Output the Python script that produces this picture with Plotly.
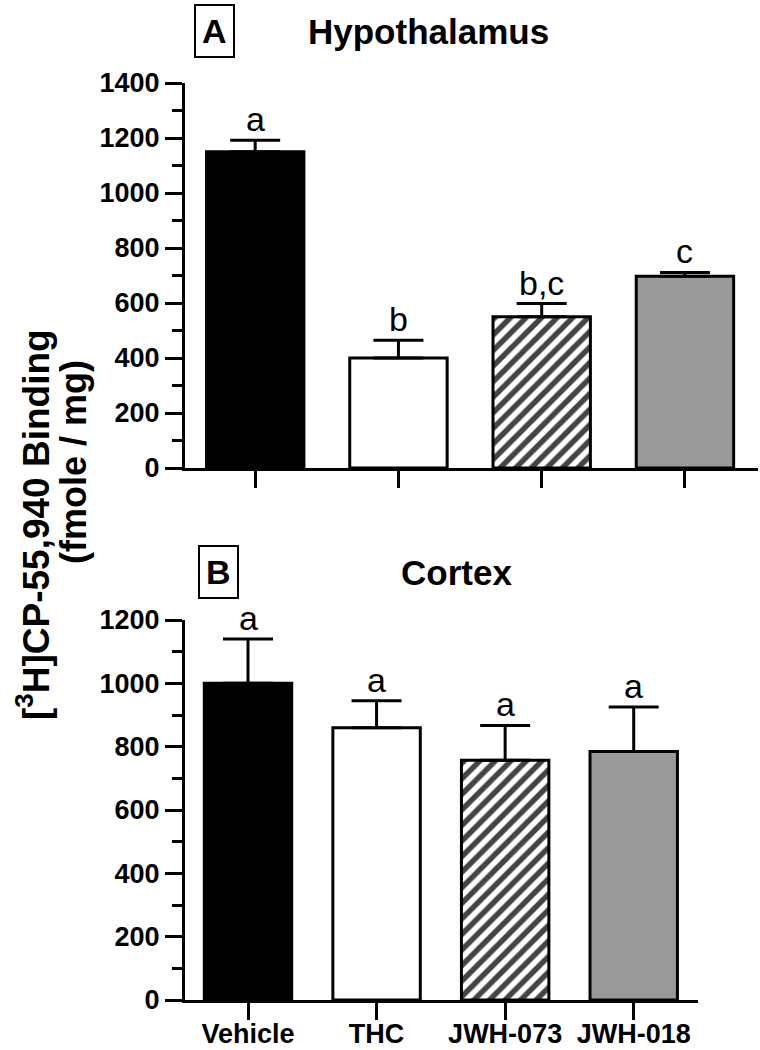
import plotly.graph_objects as go

categories = ["Vehicle", "THC", "JWH-073", "JWH-018"]
hyp_values = [1150, 400, 550, 697]
hyp_errors = [42, 65, 48, 14]
hyp_letters = ["a", "b", "b,c", "c"]
ctx_values = [1000, 860, 757, 785]
ctx_errors = [140, 85, 110, 140]
ctx_letters = ["a", "a", "a", "a"]
bar_colors = ["#000000", "#ffffff", "#ffffff", "#999999"]
bar_patterns = ["", "", "/", ""]

W, H = 760, 1050
FONT = "Liberation Sans, Arial, Helvetica, sans-serif"


def px_x(p):
    return p / W


def px_y(p):
    return 1 - p / H


def bar_trace(vals, errs, xa, ya):
    return go.Bar(
        x=categories, y=vals, xaxis=xa, yaxis=ya, width=0.68,
        marker=dict(
            color=bar_colors,
            line=dict(color="black", width=3),
            pattern=dict(shape=bar_patterns, fgcolor="black", fgopacity=1,
                         size=11, solidity=0.5, fillmode="overlay"),
        ),
        error_y=dict(type="data", array=errs, arrayminus=[0] * len(errs),
                     symmetric=False, color="black", thickness=3, width=25),
        showlegend=False, hoverinfo="skip",
    )


fig = go.Figure()
fig.add_trace(bar_trace(hyp_values, hyp_errors, "x", "y"))
fig.add_trace(bar_trace(ctx_values, ctx_errors, "x2", "y2"))

axis_common = dict(showline=True, linecolor="black", linewidth=3,
                   ticks="outside", tickcolor="black", tickwidth=3,
                   showgrid=False, zeroline=False,
                   tickfont=dict(family=FONT, size=27, color="black", weight="bold"))

fig.update_layout(
    width=W, height=H, margin=dict(l=0, r=0, t=0, b=0),
    paper_bgcolor="white", plot_bgcolor="white", template="none",
    font=dict(family=FONT, color="black"),
    xaxis=dict(domain=[px_x(185), px_x(758)], range=[-0.49, 3.51],
               anchor="y", type="category", ticklen=17, showticklabels=False,
               **axis_common),
    yaxis=dict(domain=[px_y(468), px_y(83)], range=[0, 1400], anchor="x",
               dtick=200, ticklen=17,
               minor=dict(dtick=100, ticklen=10, tickwidth=3, tickcolor="black",
                          ticks="outside"),
               **axis_common),
    xaxis2=dict(domain=[px_x(185), px_x(698)], range=[-0.49, 3.5],
                anchor="y2", type="category", ticklen=17, ticklabelstandoff=-9,
                **axis_common),
    yaxis2=dict(domain=[px_y(1000), px_y(620)], range=[0, 1200], anchor="x2",
                dtick=200, ticklen=17,
                minor=dict(dtick=100, ticklen=10, tickwidth=3, tickcolor="black",
                           ticks="outside"),
                **axis_common),
)

ann = []
for xa, ya, vals, errs, letters in [("x", "y", hyp_values, hyp_errors, hyp_letters),
                                    ("x2", "y2", ctx_values, ctx_errors, ctx_letters)]:
    for c, v, e, t in zip(categories, vals, errs, letters):
        ann.append(dict(x=c, y=v + e, xref=xa, yref=ya, text=t, showarrow=False,
                        yanchor="bottom", xanchor="center", yshift=0,
                        font=dict(family=FONT, size=34, color="black")))

bold = dict(family=FONT, size=35, color="black", weight="bold")
# panel titles
ann.append(dict(x=px_x(428), y=px_y(32), xref="paper", yref="paper", text="Hypothalamus",
                showarrow=False, xanchor="center", yanchor="middle", font=bold))
ann.append(dict(x=px_x(456), y=px_y(572), xref="paper", yref="paper", text="Cortex",
                showarrow=False, xanchor="center", yanchor="middle", font=bold))
# panel letters in boxes
for letter, cx, cy in [("A", 214.5, 31), ("B", 218, 571.5)]:
    ann.append(dict(x=px_x(cx), y=px_y(cy), xref="paper", yref="paper", text=letter,
                    showarrow=False, xanchor="center", yanchor="middle",
                    bordercolor="black", borderwidth=2, borderpad=6,
                    font=dict(family=FONT, size=34, color="black", weight="bold")))
# y-axis title (two lines)
ann.append(dict(x=px_x(33), y=px_y(525), xref="paper", yref="paper",
                text="[<sup>3</sup>H]CP-55,940 Binding", textangle=-90,
                showarrow=False, xanchor="center", yanchor="middle",
                font=dict(bold, size=37)))
ann.append(dict(x=px_x(74), y=px_y(462), xref="paper", yref="paper",
                text="(fmole / mg)", textangle=-90,
                showarrow=False, xanchor="center", yanchor="middle",
                font=dict(bold, size=36)))
fig.update_layout(annotations=ann)

fig.write_html("out.html", config={"displayModeBar": False},
               post_script="document.body.style.margin='0';document.body.style.padding='0';")
